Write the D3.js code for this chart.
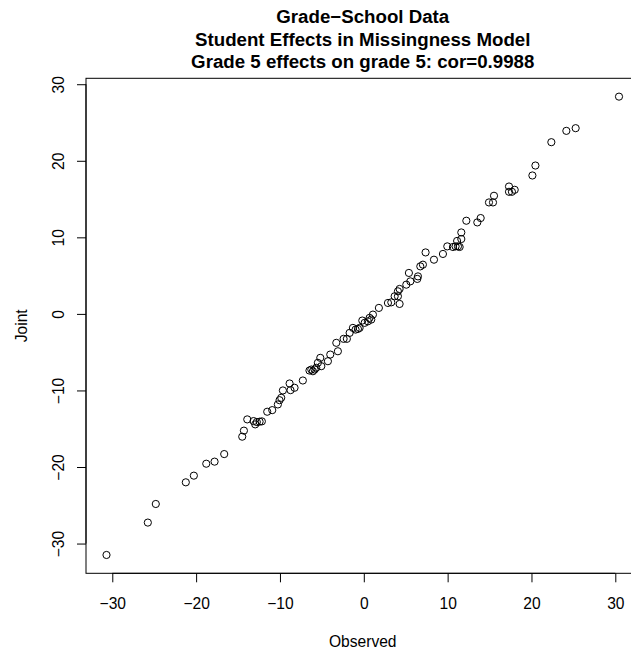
<!DOCTYPE html>
<html>
<head>
<meta charset="utf-8">
<style>
body { margin: 0; background: #fff; }
svg { display: block; font-family: "Liberation Sans", Arial, Helvetica, sans-serif; }
.axis .domain { display: none; }
.axis line, .rline { stroke: #000; stroke-width: 1; }
.axis text { font-size: 15.6px; fill: #000; }
</style>
</head>
<body>
<svg width="631" height="654"></svg>
<script src="https://d3js.org/d3.v7.min.js"></script>
<script>
// student effects, observed vs joint model
var observed = [-30.69, -25.76, -24.81, -21.23, -20.27, -18.79, -17.80, -16.65, -14.50, -14.30,
  -13.90, -13.15, -12.95, -12.76, -12.43, -12.16, -11.52, -10.92, -10.25, -10.05,
  -9.85, -9.65, -8.85, -8.74, -8.26, -7.27, -6.48, -6.26, -6.07, -5.87,
  -5.67, -5.48, -5.19, -5.07, -4.28, -4.00, -3.28, -3.09, -2.41, -2.02,
  -1.69, -1.30, -0.98, -0.70, -0.50, -0.18, 0.10, 0.49, 0.69, 0.89,
  1.09, 1.80, 2.88, 3.28, 3.68, 4.07, 4.27, 4.27, 4.07, 5.07,
  5.38, 5.55, 6.38, 6.46, 6.74, 7.05, 7.37, 8.37, 9.44, 9.96,
  10.63, 10.95, 11.23, 11.43, 11.13, 11.63, 11.63, 12.23, 13.54, 13.94,
  14.93, 15.41, 15.53, 17.32, 17.32, 17.67, 18.00, 20.11, 20.47, 22.37,
  24.16, 25.27, 30.44];
var joint = [-31.49, -27.26, -24.83, -22.00, -21.13, -19.57, -19.30, -18.31, -16.04, -15.25,
  -13.78, -14.00, -14.43, -14.13, -14.08, -14.04, -12.78, -12.57, -11.83, -11.27,
  -10.96, -10.00, -9.09, -9.96, -9.65, -8.70, -7.40, -7.27, -7.49, -7.27,
  -7.04, -6.39, -5.74, -6.83, -6.18, -5.31, -3.78, -4.88, -3.26, -3.26,
  -2.48, -1.83, -2.05, -1.96, -1.83, -0.87, -1.17, -0.97, -0.52, -0.74,
  -0.09, 0.78, 1.43, 1.51, 2.30, 2.30, 1.30, 3.26, 2.95, 3.82,
  5.35, 4.25, 4.57, 4.90, 6.21, 6.43, 8.03, 7.08, 7.83, 8.82,
  8.74, 8.82, 8.82, 8.74, 9.53, 9.78, 10.64, 12.17, 11.95, 12.52,
  14.56, 14.56, 15.43, 16.64, 15.95, 15.95, 16.21, 18.08, 19.38, 22.43,
  23.91, 24.26, 28.38];
var xTicks = [-30, -20, -10, 0, 10, 20, 30];
var yTicks = [-30, -20, -10, 0, 10, 20, 30];
var titleLines = ["Grade\u2212School Data", "Student Effects in Missingness Model", "Grade 5 effects on grade 5: cor=0.9988"];

var svg = d3.select("svg"),
    plot = {left: 86, right: 639.5, top: 78.3, bottom: 573.3};

// R style limits: data range padded by 4% on each side
function rlim(v) {
  var e = d3.extent(v), pad = (e[1] - e[0]) * 0.04;
  return [e[0] - pad, e[1] + pad];
}
var x = d3.scaleLinear().domain(rlim(observed)).range([plot.left, plot.right]);
var y = d3.scaleLinear().domain(rlim(joint)).range([plot.bottom, plot.top]);

svg.append("rect")
    .attr("x", plot.left).attr("y", plot.top)
    .attr("width", plot.right - plot.left).attr("height", plot.bottom - plot.top)
    .attr("fill", "none").attr("stroke", "#000");

var gx = svg.append("g")
    .attr("class", "axis")
    .attr("transform", "translate(0," + plot.bottom + ")")
    .call(d3.axisBottom(x).tickValues(xTicks).tickSize(9).tickSizeOuter(0).tickPadding(15.4)
      .tickFormat(function(d) { return d < 0 ? "\u2212" + (-d) : d; }));
gx.append("line").attr("class", "rline")
    .attr("x1", x(xTicks[0])).attr("x2", x(xTicks[xTicks.length - 1]));

var gy = svg.append("g")
    .attr("class", "axis")
    .attr("transform", "translate(" + plot.left + ",0)")
    .call(d3.axisLeft(y).tickValues(yTicks).tickSize(9).tickSizeOuter(0)
      .tickFormat(function(d) { return d < 0 ? "\u2212" + (-d) : d; }));
gy.selectAll(".tick text")
    .attr("x", 0).attr("dy", null)
    .attr("text-anchor", "middle")
    .attr("transform", "translate(-21.7,0) rotate(-90)");
gy.append("line").attr("class", "rline")
    .attr("y1", y(yTicks[0])).attr("y2", y(yTicks[yTicks.length - 1]));

svg.append("g").selectAll("circle")
    .data(observed.map(function(d, i) { return [d, joint[i]]; }))
  .enter().append("circle")
    .attr("cx", function(d) { return x(d[0]); })
    .attr("cy", function(d) { return y(d[1]); })
    .attr("r", 3.6)
    .attr("fill", "none")
    .attr("stroke", "#000")
    .attr("stroke-width", 1);

var cx = (plot.left + plot.right) / 2;
svg.append("g").selectAll("text")
    .data(titleLines)
  .enter().append("text")
    .attr("x", cx)
    .attr("y", function(d, i) { return 68 - (titleLines.length - 1 - i) * 22.4; })
    .attr("text-anchor", "middle")
    .attr("font-weight", "bold")
    .attr("font-size", "18.7px")
    .text(function(d) { return d; });

svg.append("text")
    .attr("x", cx).attr("y", 647.3)
    .attr("text-anchor", "middle")
    .attr("font-size", "15.6px")
    .text("Observed");

svg.append("text")
    .attr("transform", "translate(27.3," + (plot.top + plot.bottom) / 2 + ") rotate(-90)")
    .attr("text-anchor", "middle")
    .attr("font-size", "15.6px")
    .text("Joint");
</script>
</body>
</html>
